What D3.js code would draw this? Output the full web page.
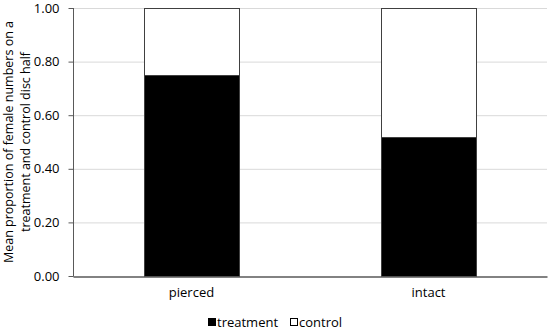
<!DOCTYPE html>
<html lang="en">
<head>
    <meta charset="UTF-8">
    <title>Female proportions</title>
    <script src="https://d3js.org/d3.v7.min.js"></script>
    <style>
        body { margin: 0; background: #fff; }
        text { font-family: "Open Sans", sans-serif; fill: #000; }
    </style>
</head>
<body>
<script>
    categories = ["pierced", "intact"]
    treatment = [0.75, 0.52]
    control = [0.25, 0.48]
    yTicks = [0, 0.2, 0.4, 0.6, 0.8, 1.0]
    seriesNames = ["treatment", "control"]
    seriesColors = ["#000000", "#ffffff"]

    //chart dimensions
    w = 550
    h = 330
    margin = {top: 8, right: 3, bottom: 54, left: 73}
    width = w - margin.left - margin.right
    height = h - margin.top - margin.bottom

    svg = d3.select("body")
        .append("svg")
        .attr("width", w)
        .attr("height", h)

    g = svg.append("g")
        .attr("transform", "translate(" + margin.left + "," + margin.top + ")")

    x = d3.scaleBand()
        .domain(categories)
        .range([0, width])
        .paddingInner(0.6)
        .paddingOuter(0.3)

    y = d3.scaleLinear()
        .domain([0, 1])
        .range([height, 0])

    //gridlines
    g.selectAll("line.grid")
        .data(yTicks.slice(1))
        .enter()
        .append("line")
        .attr("class", "grid")
        .attr("x1", 0)
        .attr("x2", width)
        .attr("y1", (d) => y(d) + 0.5)
        .attr("y2", (d) => y(d) + 0.5)
        .attr("stroke", "#d9d9d9")

    //stacked data
    table = categories.map((c, i) => ({name: c, treatment: treatment[i], control: control[i]}))
    stack = d3.stack().keys(seriesNames)(table)

    layers = g.selectAll("g.layer")
        .data(stack)
        .enter()
        .append("g")
        .attr("class", "layer")
        .attr("fill", (d, i) => seriesColors[i])

    layers.selectAll("rect")
        .data((d) => d)
        .enter()
        .append("rect")
        .attr("x", (d) => Math.round(x(d.data.name)) + 0.5)
        .attr("width", Math.round(x.bandwidth()))
        .attr("y", (d) => Math.round(y(d[1])) + 0.5)
        .attr("height", (d) => Math.round(y(d[0])) - Math.round(y(d[1])))
        .attr("stroke", "#404040")
        .attr("stroke-width", 1)

    //y axis
    yAxis = g.append("g")
        .attr("transform", "translate(0.5,0)")
        .call(d3.axisLeft(y).tickValues(yTicks).tickFormat(d3.format(".2f")).tickSize(5).tickPadding(9))
    yAxis.select(".domain").attr("stroke", "#595959").attr("d", "M0," + y(1) + "V" + (height + 0.5))
    yAxis.selectAll(".tick line").attr("stroke", "#595959")
    yAxis.selectAll("text").style("font-size", "13px")

    //x axis
    xAxis = g.append("g")
        .attr("transform", "translate(0," + (height + 0.5) + ")")
        .call(d3.axisBottom(x).tickSize(0).tickPadding(11))
    xAxis.select(".domain").attr("stroke", "#595959").attr("stroke-width", 1.5)
    xAxis.selectAll("text").style("font-size", "13px")

    //y title
    svg.append("text")
        .attr("transform", "translate(13,142) rotate(-90)")
        .attr("text-anchor", "middle")
        .style("font-size", "12.5px")
        .selectAll("tspan")
        .data(["Mean proportion of female numbers on a", "treatment and control disc half"])
        .enter()
        .append("tspan")
        .attr("x", 0)
        .attr("dy", (d, i) => i === 0 ? 0 : 17)
        .text((d) => d)

    //legend
    legend = svg.append("g")
        .attr("transform", "translate(208,318)")
    legendX = [0, 82]
    items = legend.selectAll("g")
        .data(seriesNames)
        .enter()
        .append("g")
        .attr("transform", (d, i) => "translate(" + legendX[i] + ",0)")
    items.append("rect")
        .attr("x", 0.5)
        .attr("y", 0.5)
        .attr("width", 7)
        .attr("height", 7)
        .attr("fill", (d, i) => seriesColors[i])
        .attr("stroke", "#000")
    items.append("text")
        .attr("x", 9)
        .attr("y", 9)
        .style("font-size", "13px")
        .text((d) => d)
</script>
</body>
</html>
